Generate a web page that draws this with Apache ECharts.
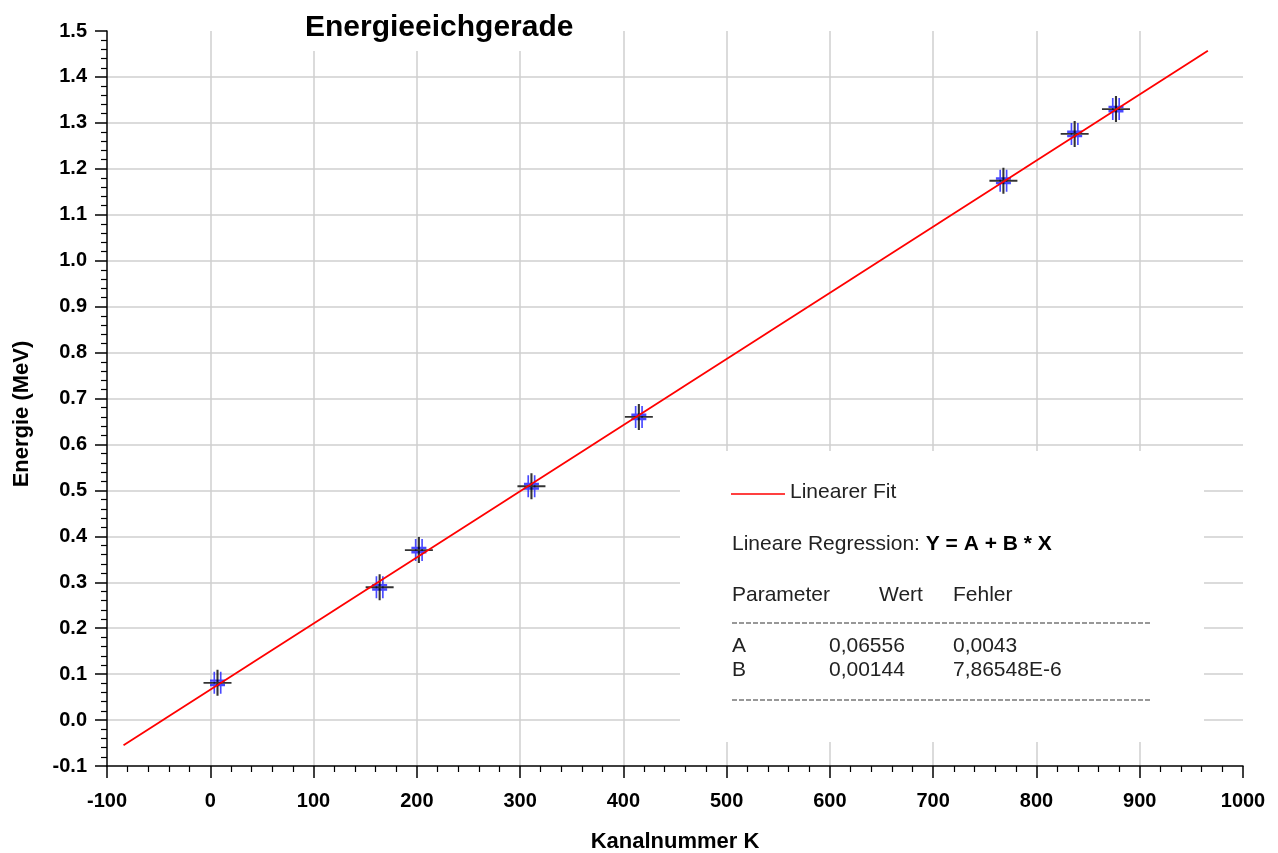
<!DOCTYPE html>
<html>
<head>
<meta charset="utf-8">
<title>Energieeichgerade</title>
<script src="https://cdn.jsdelivr.net/npm/echarts@6/dist/echarts.min.js"></script>
<style>
  html, body { margin: 0; padding: 0; background: #fff; }
  #main { width: 1278px; height: 853px; }
</style>
</head>
<body>
<div id="main"></div>
<script>
// Messpunkte (Kanal / Energie)
const kanal = [7, 164, 202, 311, 415, 768, 837, 877];
const energie = [0.081, 0.289, 0.370, 0.509, 0.660, 1.174, 1.276, 1.330];
// Endpunkte der Fitgeraden
const fitKanal = [-84, 966];
const fitEnergie = [-0.055, 1.457];
// Parametertabelle
const paramNamen = ['A', 'B'];
const paramWerte = ['0,06556', '0,00144'];
const paramFehler = ['0,0043', '7,86548E-6'];

const font = '"Liberation Sans", Arial, sans-serif';
const chart = echarts.init(document.getElementById('main'));

const tableTexts = [];
paramNamen.forEach(function (n, i) {
  const y = 647 + i * 24;
  tableTexts.push(
    { type: 'text', z: 11, left: 732, top: y - 11, style: { text: n, font: '21px ' + font, fill: '#222' } },
    { type: 'text', z: 11, left: 829, top: y - 11, style: { text: paramWerte[i], font: '21px ' + font, fill: '#222' } },
    { type: 'text', z: 11, left: 953, top: y - 11, style: { text: paramFehler[i], font: '21px ' + font, fill: '#222' } }
  );
});

const option = {
  backgroundColor: '#fff',
  animation: false,
  title: {
    text: 'Energieeichgerade',
    left: 293,
    top: 5,
    padding: [8, 12, 8, 12],
    backgroundColor: '#fff',
    textStyle: { fontFamily: font, fontWeight: 'bold', fontSize: 30, color: '#000' }
  },
  grid: { left: 107, right: 35, top: 31, bottom: 87, outerBoundsMode: 'none' },
  xAxis: {
    type: 'value',
    min: -100,
    max: 1000,
    interval: 100,
    name: 'Kanalnummer K',
    nameLocation: 'middle',
    nameGap: 65,
    nameTextStyle: { fontFamily: font, fontWeight: 'bold', fontSize: 22, color: '#000' },
    axisLine: { onZero: false, lineStyle: { color: '#000', width: 1.5 } },
    axisTick: { length: 12, lineStyle: { color: '#000', width: 1.5 } },
    minorTick: { show: true, splitNumber: 5, length: 6, lineStyle: { color: '#000', width: 1.2 } },
    axisLabel: {
      margin: 25, fontFamily: font, fontWeight: 'bold', fontSize: 20, color: '#000',
      formatter: function (v) { return String(v); }
    },
    splitLine: { show: true, showMinLine: false, showMaxLine: false, lineStyle: { color: '#cfcfcf', width: 1.5 } }
  },
  yAxis: {
    type: 'value',
    min: -0.1,
    max: 1.5,
    interval: 0.1,
    axisLine: { onZero: false, lineStyle: { color: '#000', width: 1.5 } },
    axisTick: { length: 12, lineStyle: { color: '#000', width: 1.5 } },
    minorTick: { show: true, splitNumber: 5, length: 6, lineStyle: { color: '#000', width: 1.2 } },
    axisLabel: {
      margin: 20,
      fontFamily: font, fontWeight: 'bold', fontSize: 20, color: '#000',
      formatter: function (v) { return v.toFixed(1); }
    },
    splitLine: { show: true, showMinLine: false, showMaxLine: false, lineStyle: { color: '#cfcfcf', width: 1.5 } }
  },
  graphic: {
    elements: [
      {
        type: 'text', z: 11, x: 22, y: 414, rotation: Math.PI / 2,
        style: { text: 'Energie (MeV)', font: 'bold 22px ' + font, fill: '#000', align: 'center', verticalAlign: 'middle' }
      },
      { type: 'rect', z: 10, shape: { x: 680, y: 451, width: 524, height: 291 }, style: { fill: '#fff' } },
      { type: 'line', z: 11, shape: { x1: 731, y1: 494, x2: 785, y2: 494 }, style: { stroke: '#ff0000', lineWidth: 1.5 } },
      { type: 'text', z: 11, left: 790, top: 482, style: { text: 'Linearer Fit', font: '21px ' + font, fill: '#222' } },
      {
        type: 'text', z: 11, left: 732, top: 534,
        style: {
          text: '{n|Lineare Regression: }{b|Y = A + B * X}',
          rich: {
            n: { fontFamily: font, fontSize: 21, fill: '#222' },
            b: { fontFamily: font, fontSize: 21, fontWeight: 'bold', fill: '#000' }
          }
        }
      },
      { type: 'text', z: 11, left: 732, top: 585, style: { text: 'Parameter', font: '21px ' + font, fill: '#222' } },
      { type: 'text', z: 11, left: 879, top: 585, style: { text: 'Wert', font: '21px ' + font, fill: '#222' } },
      { type: 'text', z: 11, left: 953, top: 585, style: { text: 'Fehler', font: '21px ' + font, fill: '#222' } },
      { type: 'line', z: 11, shape: { x1: 732, y1: 623, x2: 1151, y2: 623 }, style: { stroke: '#333', lineWidth: 1.2, lineDash: [5, 2] } },
      { type: 'line', z: 11, shape: { x1: 732, y1: 700, x2: 1151, y2: 700 }, style: { stroke: '#333', lineWidth: 1.2, lineDash: [5, 2] } }
    ].concat(tableTexts)
  },
  series: [
    {
      name: 'Messwerte blau',
      type: 'scatter',
      z: 3,
      data: kanal.map(function (k, i) { return [k, energie[i]]; }),
      symbol: 'path://M4,0L4,20M10,0L10,20M0,8L14,8M0,12L14,12',
      symbolSize: [15, 22],
      itemStyle: { color: 'rgba(0,0,0,0)', borderColor: '#1a1aff', borderWidth: 2 }
    },
    {
      name: 'Messwerte',
      type: 'scatter',
      z: 4,
      data: kanal.map(function (k, i) { return [k, energie[i]]; }),
      symbol: 'path://M0,10L20,10M10,0L10,20',
      symbolSize: [28, 26],
      itemStyle: { color: 'rgba(0,0,0,0)', borderColor: '#000', borderWidth: 2 }
    },
    {
      name: 'Linearer Fit',
      type: 'line',
      z: 5,
      data: fitKanal.map(function (k, i) { return [k, fitEnergie[i]]; }),
      showSymbol: false,
      lineStyle: { color: '#ff0000', width: 1.8 }
    }
  ]
};

chart.setOption(option);
</script>
</body>
</html>
